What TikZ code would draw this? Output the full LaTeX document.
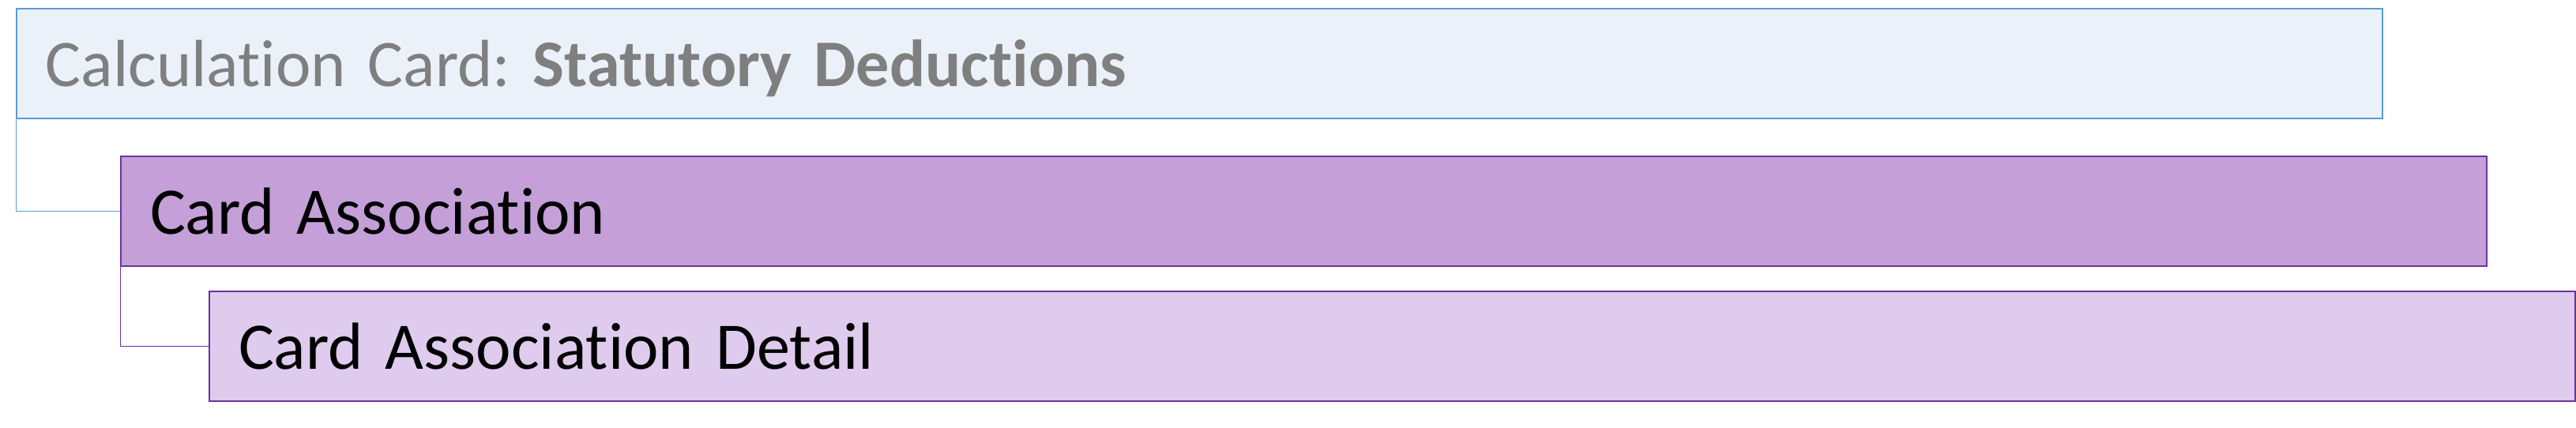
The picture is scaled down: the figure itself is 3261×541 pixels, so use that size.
\documentclass[tikz,border=0pt]{standalone}
\usepackage{fontspec}
\setmainfont{Carlito}[Ligatures=NoCommon]
\definecolor{calcline}{HTML}{5B9BD5}
\definecolor{calcfill}{HTML}{EAF1F9}
\definecolor{calctext}{HTML}{7F7F7F}
\definecolor{assocline}{HTML}{7030A0}
\definecolor{assocfill}{HTML}{C49FD8}
\definecolor{detailfill}{HTML}{DFCBED}
\begin{document}
\begin{tikzpicture}[x=0.1mm,y=-0.1mm,
  box/.style={rectangle,draw,line width=0.2mm,anchor=north west,
    minimum height=13.85mm,text width=292.1mm,inner xsep=3.7mm,inner ysep=0pt,
    text height=5.8mm,text depth=0pt,align=left,
    font=\fontsize{24}{28}\selectfont\frenchspacing}]
  \useasboundingbox (0,0) rectangle (3261,541);

  \node[box,draw=calcline,fill=calcfill,text=calctext] (b1) at (20,10) {Calculation Card: \textbf{Statutory Deductions}};
  \node[box,draw=assocline,fill=assocfill] (b2) at (152,197) {Card Association};
  \node[box,draw=assocline,fill=detailfill] (b3) at (264,368) {Card Association Detail};

  \draw[calcline,line width=0.1mm]  (b1.south west) |- (b2.west);
  \draw[assocline,line width=0.1mm]  (b2.south west) |- (b3.west);
\end{tikzpicture}
\end{document}
